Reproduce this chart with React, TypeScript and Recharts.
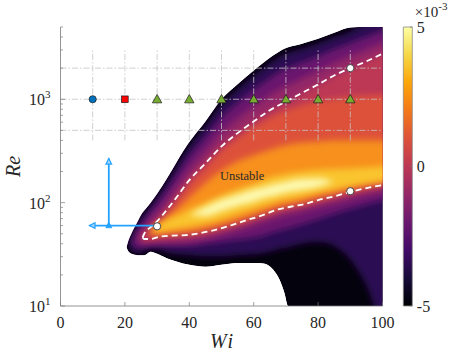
// Linear stability map of Re against Wi. The coloured growth-rate field is drawn
// as nested range areas, softened with a blur, then clipped
// to the region's outline with white covers. A separate bar chart is the colour bar.

import { ComposedChart, Area, Line, Scatter, XAxis, YAxis, BarChart, Bar } from 'recharts'

// ── Data ─────────────────────────────────────────────────────────────────────
const _ = null

// Wi columns where the contour bands were read
const wiCols = [17, 19, 20.5, 21, 22, 24, 25, 26, 28, 30, 33, 36, 40, 45, 50, 55, 60, 63, 66, 68, 69.5, 70.7, 75, 80, 85, 90, 95, 100, 104]

// outline of the computed region (outside = white)
const domainLo = [_, _, 37, 34, 32, 31, 31, 31, 33.5, 32, 29, 27, 25, 24, 25, 26, 26, 25.8, 22.5, 18, 13.5, 10, 10, 10, 10, 10, 10, 10, 10]
const domainHi = [_, _, 37, 42, 50, 66, 76, 84, 100, 122, 170, 245, 385, 610, 1000, 1400, 1900, 2250, 2650, 2900, 3080, 3180, 3450, 3850, 4400, 4950, 5000, 5000, 5000]

// growth-rate contour bands, low / high Re edge at each column
const l1Lo = [_, _, _, 38, 34, 32.4, 33, 34, 35.5, 35.5, 33, 31.6, 31, 30.2, 30.2, 31, 31.6, 32.4, 34, 35.5, 36.3, 37, 40, 41.7, 38, 28, 15.8, 7, 7]
const l1Hi = [_, _, _, 38, 48, 63, 71, 78, 95, 115, 158, 226, 353, 556, 900, 1256, 1700, 2000, 2355, 2570, 2735, 2818, 3090, 3475, 4000, 4530, 5600, 6500, 7000]
const l2Lo = [_, _, _, _, 41.7, 36.3, 36.7, 37.2, 38, 38, 38, 38, 38, 39.8, 41.7, 43.6, 45.7, 47.9, 51.3, 53.7, 55, 56.2, 61.7, 69.2, 77.6, 87, 95.5, 104.7, 108]
const l2Hi = [_, _, _, _, 41.7, 55, 61.7, 68, 82, 98, 131, 182, 279, 428, 671, 925, 1233, 1442, 1687, 1837, 1954, 2014, 2275, 2612, 3062, 3508, 4018, 4613, 5100]
const l2bLo = [_, _, _, _, _, 44.7, 39.8, 39.8, 40.7, 40.7, 40.7, 40.7, 41.7, 44.3, 48.5, 53.6, 60.4, 64.7, 69.8, 73.1, 74.8, 76.6, 81.7, 90.2, 98, 108, 117.5, 126, 132]
const l2bHi = [_, _, _, _, _, 44.7, 52.5, 58, 69, 81, 104.5, 142, 212, 318, 480, 652, 857, 993, 1153, 1250, 1330, 1374, 1600, 1888, 2259, 2624, 3027, 3540, 4000]
const l3Lo = [_, _, _, _, _, _, 46, 43, 43.5, 44.4, 45.2, 45.8, 46.8, 49.7, 54.5, 60.1, 67.8, 72.6, 78.3, 82, 84, 86, 91.6, 101, 110, 121, 132, 141, 150]
const l3Hi = [_, _, _, _, _, _, 46, 50, 58, 66, 85, 112, 165, 240, 350, 470, 610, 700, 810, 870, 930, 960, 1150, 1390, 1700, 2000, 2330, 2760, 3150]
const l4Lo = [_, _, _, _, _, _, _, 46.8, 46.6, 47.5, 48.4, 49, 50.1, 53.2, 58.3, 64.4, 72.6, 77.8, 84, 87.9, 90, 92, 98.2, 108, 118, 130, 141, 151, 158]
const l4Hi = [_, _, _, _, _, _, _, 46.8, 53, 60, 77, 101, 150, 218, 318, 420, 540, 610, 690, 730, 770, 790, 880, 960, 1010, 1050, 1080, 1100, 1120]
const l5Lo = [_, _, _, _, _, _, _, _, 50.1, 50.1, 51.3, 52.5, 53.7, 57, 62.5, 69, 77.8, 83.4, 90, 94.2, 96.4, 98.6, 105, 116, 126, 139, 151, 158, 164]
const l5Hi = [_, _, _, _, _, _, _, _, 52.5, 60.3, 70.8, 85.1, 112, 155, 204, 251, 288, 309, 331, 347, 355, 363, 380, 389, 398, 398, 398, 398, 398]
const l6Lo = [_, _, _, _, _, _, _, _, 53.7, 52.5, 54.3, 56.2, 58.9, 63.1, 69.2, 77.6, 87.1, 93.3, 100, 105, 107, 108, 115, 126, 135, 145, 155, 162, 168]
const l6Hi = [_, _, _, _, _, _, _, _, 53.7, 58.9, 67.6, 74.1, 85.1, 100, 117, 135, 151, 165, 180, 184, 188, 192, 200, 208, 212, 214, 219, 224, 228]
const l7Lo = [_, _, _, _, _, _, _, _, _, _, _, _, 75.9, 74, 83, 93, 102, 110, 115, 120, 123, 126, 132, 141, 158, _, _, _, _]
const l7Hi = [_, _, _, _, _, _, _, _, _, _, _, _, 75.9, 91, 107, 120, 135, 141, 151, 155, 158, 162, 170, 172, 158, _, _, _, _]

// neutral curve (white dashes), upper and lower branch from the nose
const neutralUpperWi = [25.5, 26, 28, 30, 33, 36, 40, 45, 50, 55, 60, 65, 70, 75, 80, 85, 90, 95, 100]
const neutralUpperRe = [46, 50, 58, 66, 85, 112, 165, 240, 350, 470, 610, 783, 950, 1150, 1390, 1700, 2000, 2330, 2760]
const neutralLowerWi = [25.5, 26, 28, 31, 35, 39, 43, 47.5, 52, 58, 63, 67, 72, 76.5, 80, 85, 90, 95, 100]
const neutralLowerRe = [46, 44.5, 44.5, 47, 48, 48.5, 50.5, 54, 59, 68, 76, 85, 92, 98, 106, 115, 127, 138, 148]

// simulation cases along Re = 1000
const circleCase = [{ wi: 10, re: 1000 }]
const squareCase = [{ wi: 20, re: 1000 }]
const triangleWi = [30, 40, 50, 60, 70, 80, 90]
const triangleRe = 1000
// open circles
const openWi = [30, 90, 90]
const openRe = [59, 2000, 129]

// blue arrows
const arrowUp = [{ wi: 15, re: 60 }, { wi: 15, re: 267 }]
const arrowLeft = [{ wi: 30, re: 60 }, { wi: 9, re: 60 }]

// dash-dot guide lines
const guideWi = [10, 20, 30, 40, 50, 60, 70, 80, 90]
const guideSpan = [400, 3000]
const guideRe = [500, 1000, 2000]

const regionLabel = { wi: 56.4, re: 180, text: 'Unstable' }

// axes
const wiTicks = [0, 20, 40, 60, 80, 100]
const reTicks = [10, 20, 30, 40, 50, 60, 70, 80, 90, 100, 200, 300, 400, 500, 600, 700, 800, 900, 1000, 2000, 3000, 4000, 5000]
const reMajor = [10, 100, 1000]
const cbTicks = [-5, 0, 5]

// inferno colour map, low → high
const inferno = ['#000004', '#160b39', '#420a68', '#6a176e', '#932667', '#bc3754', '#dd513a', '#f37819', '#fca50a', '#f6d746', '#fcffa4']

// ── Build the area table ─────────────────────────────────────────────────────
const pair = (lo: number | null, hi: number | null) => (lo == null || hi == null ? null : [lo, hi])

const bands = [
  { key: 'l1', lo: l1Lo, hi: l1Hi, color: '#2a0b52' },
  { key: 'l2', lo: l2Lo, hi: l2Hi, color: '#6a176e' },
  { key: 'l2b', lo: l2bLo, hi: l2bHi, color: '#932667' },
  { key: 'l3', lo: l3Lo, hi: l3Hi, color: '#bc3754' },
  { key: 'l4', lo: l4Lo, hi: l4Hi, color: '#dd513a' },
  { key: 'l5', lo: l5Lo, hi: l5Hi, color: '#f7901a' },
  { key: 'l6', lo: l6Lo, hi: l6Hi, color: '#f9c52d' },
  { key: 'l7', lo: l7Lo, hi: l7Hi, color: '#fdf9b0' },
]

const rows = wiCols.map((wi, i) => {
  const row: any = {
    wi,
    domain: pair(domainLo[i], domainHi[i]),
    coverTop: [domainHi[i] ?? 28, 8000],
    coverBottom: [6, domainLo[i] ?? 48],
  }
  bands.forEach((b) => { row[b.key] = pair(b.lo[i], b.hi[i]) })
  return row
})

const zip = (xs: number[], ys: number[]) => xs.map((wi, i) => ({ wi, re: ys[i] }))

// ── Styles ───────────────────────────────────────────────────────────────────
const FONT = '"Liberation Serif", "DejaVu Serif", serif'
const AXIS = '#7a7a7a'
const TEXT = '#262626'
const BLUE = '#23a3ff'

// ── Ticks (inward, MATLAB style) ─────────────────────────────────────────────
function BottomTick({ x, y, payload }: any) {
  return (
    <g>
      <line x1={x} x2={x} y1={y} y2={y - 4} stroke={AXIS} strokeWidth={0.7} />
      <text x={x} y={y + 22} textAnchor="middle" fontFamily={FONT} fontSize={16} fill={TEXT}>
        {payload.value}
      </text>
    </g>
  )
}

function TopTick({ x, y }: any) {
  return <line x1={x} x2={x} y1={y} y2={y + 4} stroke={AXIS} strokeWidth={0.7} />
}

function LeftTick({ x, y, payload }: any) {
  const major = reMajor.includes(payload.value)
  return (
    <g>
      <line x1={x} x2={x + (major ? 4.5 : 2.5)} y1={y} y2={y} stroke={AXIS} strokeWidth={0.7} />
      {major && (
        <text x={x - 10} y={y + 6} textAnchor="end" fontFamily={FONT} fontSize={16} fill={TEXT}>
          10<tspan dy={-7} fontSize={11}>{Math.round(Math.log10(payload.value))}</tspan>
        </text>
      )}
    </g>
  )
}

function RightTick({ x, y, payload }: any) {
  const major = reMajor.includes(payload.value)
  return <line x1={x} x2={x - (major ? 4.5 : 2.5)} y1={y} y2={y} stroke={AXIS} strokeWidth={0.7} />
}

function ReTitle({ viewBox }: any) {
  const cx = viewBox.x + 20
  const cy = viewBox.y + viewBox.height / 2
  return (
    <text x={cx} y={cy} transform={`rotate(-90 ${cx} ${cy})`} textAnchor="middle"
      fontFamily={FONT} fontStyle="italic" fontSize={20} fill={TEXT}>
      Re
    </text>
  )
}

function WiTitle({ viewBox }: any) {
  return (
    <text x={viewBox.x + viewBox.width / 2 + 1} y={viewBox.y + 42} textAnchor="middle"
      fontFamily={FONT} fontStyle="italic" fontSize={20} letterSpacing={2} fill={TEXT}>
      Wi
    </text>
  )
}

// ── Marker shapes ────────────────────────────────────────────────────────────
const circleShape = ({ cx, cy }: any) => <circle cx={cx} cy={cy} r={3.6} fill="#0072bd" stroke="#1b1b1b" strokeWidth={0.7} />
const squareShape = ({ cx, cy }: any) => <rect x={cx - 3.3} y={cy - 3.3} width={6.6} height={6.6} fill="#ff0000" stroke="#1b1b1b" strokeWidth={0.7} />
const triangleShape = ({ cx, cy }: any) => (
  <path d={`M${cx},${cy - 4.8} L${cx + 4.7},${cy + 3.6} L${cx - 4.7},${cy + 3.6} Z`} fill="#77ac30" stroke="#1b1b1b" strokeWidth={0.7} />
)
const openShape = ({ cx, cy }: any) => <circle cx={cx} cy={cy} r={3.6} fill="#ffffff" stroke="#333333" strokeWidth={0.9} />
const headUp = ({ cx, cy }: any) => (
  <path d={`M${cx},${cy} L${cx + 2.8},${cy + 5.5} L${cx - 2.8},${cy + 5.5} Z`} fill="#9fd6ff" stroke={BLUE} strokeWidth={1.2} />
)
const headLeft = ({ cx, cy }: any) => (
  <path d={`M${cx},${cy} L${cx + 5.5},${cy - 2.8} L${cx + 5.5},${cy + 2.8} Z`} fill="#9fd6ff" stroke={BLUE} strokeWidth={1.2} />
)
const originShape = ({ cx, cy }: any) => (
  <path d={`M${cx},${cy - 3.5} L${cx + 3},${cy + 2.2} L${cx - 3},${cy + 2.2} Z`} fill={BLUE} stroke={BLUE} strokeWidth={0.8} />
)
const labelShape = ({ cx, cy, payload }: any) => (
  <text x={cx} y={cy + 4} textAnchor="middle" fontFamily={FONT} fontSize={12.5} fill="#2b2b2b">{payload.text}</text>
)

// ── Colour bar ───────────────────────────────────────────────────────────────
function CbTick({ x, y, payload }: any) {
  return (
    <g>
      <line x1={x} x2={x - 2.5} y1={y} y2={y} stroke={AXIS} strokeWidth={0.7} />
      <text x={x + 4.5} y={y + 5.5} fontFamily={FONT} fontSize={16} fill={TEXT}>{payload.value}</text>
    </g>
  )
}

function CbExponent({ viewBox }: any) {
  return (
    <text x={viewBox.x + 2.5} y={viewBox.y - 10} fontFamily={FONT} fontSize={15} fill={TEXT}>
      ×10<tspan dy={-7} fontSize={11}>-3</tspan>
    </text>
  )
}

function ColourBar() {
  return (
    <BarChart width={70} height={357} data={[{ k: 'cb', v: [-5, 5] }]}
      margin={{ top: 27, right: 0, bottom: 51, left: 8.3 }} barCategoryGap={0}>
      <defs>
        <linearGradient id="cbGrad" x1="0" y1="1" x2="0" y2="0">
          {inferno.map((c, i) => <stop key={c} offset={`${i * 10}%`} stopColor={c} />)}
        </linearGradient>
      </defs>
      <XAxis dataKey="k" hide />
      <YAxis orientation="right" type="number" domain={[-5, 5]} ticks={cbTicks} interval={0}
        width={52.7} axisLine={false} tickLine={false} tickSize={0} tickMargin={0}
        tick={<CbTick />} label={<CbExponent />} />
      <Bar dataKey="v" fill="url(#cbGrad)" stroke="#8c8c8c" strokeWidth={0.8} isAnimationActive={false} />
    </BarChart>
  )
}

// ── Main chart ───────────────────────────────────────────────────────────────
export default function App() {
  return (
    <div style={{ position: 'absolute', left: 0, top: 0, width: 465, height: 357, background: '#fff', fontFamily: FONT }}>
      <div style={{ position: 'absolute', left: 0, top: 0 }}>
        <ComposedChart width={465} height={357} data={rows}
          margin={{ top: 27, right: 82.5, bottom: 21, left: 0 }}>
          <defs>
            <filter id="soft" filterUnits="userSpaceOnUse" x={0} y={0} width={465} height={357}>
              <feGaussianBlur stdDeviation={3.2} />
            </filter>
          </defs>

          {/* region outline, black base */}
          <Area dataKey="domain" type="monotone" fill="#04020c" fillOpacity={1} stroke="none"
            dot={false} activeDot={false} isAnimationActive={false} />

          {/* growth-rate bands, softened */}
          {bands.map((b) => (
            <Area key={b.key} dataKey={b.key} type="monotone" fill={b.color} fillOpacity={1} stroke="none"
              filter="url(#soft)" dot={false} activeDot={false} isAnimationActive={false} />
          ))}

          {/* white outside the region: keeps the outline crisp */}
          <Area dataKey="coverTop" type="monotone" fill="#ffffff" fillOpacity={1} stroke="none"
            dot={false} activeDot={false} isAnimationActive={false} />
          <Area dataKey="coverBottom" type="monotone" fill="#ffffff" fillOpacity={1} stroke="none"
            dot={false} activeDot={false} isAnimationActive={false} />

          {/* dash-dot guides */}
          {guideWi.map((wi) => (
            <Line key={`gv${wi}`} data={guideSpan.map((re) => ({ wi, re }))} dataKey="re" type="linear"
              stroke="#c4c4c4" strokeWidth={0.8} strokeDasharray="6 2 1.5 2" dot={false} activeDot={false}
              isAnimationActive={false} />
          ))}
          {guideRe.map((re) => (
            <Line key={`gh${re}`} data={[{ wi: 0, re }, { wi: 100, re }]} dataKey="re" type="linear"
              stroke="#c4c4c4" strokeWidth={0.8} strokeDasharray="6 2 1.5 2" dot={false} activeDot={false}
              isAnimationActive={false} />
          ))}

          {/* neutral curve */}
          <Line data={zip(neutralUpperWi, neutralUpperRe)} dataKey="re" type="monotone" stroke="#ffffff"
            strokeWidth={1.8} strokeDasharray="6 4" dot={false} activeDot={false} isAnimationActive={false} />
          <Line data={zip(neutralLowerWi, neutralLowerRe)} dataKey="re" type="monotone" stroke="#ffffff"
            strokeWidth={1.8} strokeDasharray="6 4" dot={false} activeDot={false} isAnimationActive={false} />

          {/* arrows */}
          <Line data={arrowUp} dataKey="re" type="linear" stroke={BLUE} strokeWidth={1.8}
            dot={false} activeDot={false} isAnimationActive={false} />
          <Line data={arrowLeft} dataKey="re" type="linear" stroke={BLUE} strokeWidth={1.8}
            dot={false} activeDot={false} isAnimationActive={false} />
          <Scatter data={[arrowUp[1]]} dataKey="re" shape={headUp} isAnimationActive={false} />
          <Scatter data={[arrowLeft[1]]} dataKey="re" shape={headLeft} isAnimationActive={false} />
          <Scatter data={[arrowUp[0]]} dataKey="re" shape={originShape} isAnimationActive={false} />

          {/* cases */}
          <Scatter data={circleCase} dataKey="re" shape={circleShape} isAnimationActive={false} />
          <Scatter data={squareCase} dataKey="re" shape={squareShape} isAnimationActive={false} />
          <Scatter data={triangleWi.map((wi) => ({ wi, re: triangleRe }))} dataKey="re" shape={triangleShape} isAnimationActive={false} />
          <Scatter data={zip(openWi, openRe)} dataKey="re" shape={openShape} isAnimationActive={false} />

          <Scatter data={[regionLabel]} dataKey="re" shape={labelShape} isAnimationActive={false} />

          {/* axes, box on */}
          <XAxis dataKey="wi" type="number" domain={[0, 100]} ticks={wiTicks} interval={0} allowDataOverflow
            height={30} tickSize={0} tickMargin={0} tickLine={false} axisLine={{ stroke: AXIS, strokeWidth: 0.8 }}
            tick={<BottomTick />} label={<WiTitle />} />
          <XAxis xAxisId="top" orientation="top" dataKey="wi" type="number" domain={[0, 100]} ticks={wiTicks}
            interval={0} height={0} tickSize={0} tickMargin={0} tickLine={false}
            axisLine={{ stroke: AXIS, strokeWidth: 0.8 }} tick={<TopTick />} />
          <YAxis type="number" scale="log" domain={[10, 5000]} ticks={reTicks} interval={0} allowDataOverflow
            width={60.5} tickSize={0} tickMargin={0} tickLine={false} axisLine={{ stroke: AXIS, strokeWidth: 0.8 }}
            tick={<LeftTick />} label={<ReTitle />} />
          <YAxis yAxisId="right" orientation="right" type="number" scale="log" domain={[10, 5000]} ticks={reTicks}
            interval={0} width={0} tickSize={0} tickMargin={0} tickLine={false}
            axisLine={{ stroke: AXIS, strokeWidth: 0.8 }} tick={<RightTick />} />
        </ComposedChart>
      </div>
      <div style={{ position: 'absolute', left: 395, top: 0 }}>
        <ColourBar />
      </div>
    </div>
  )
}
